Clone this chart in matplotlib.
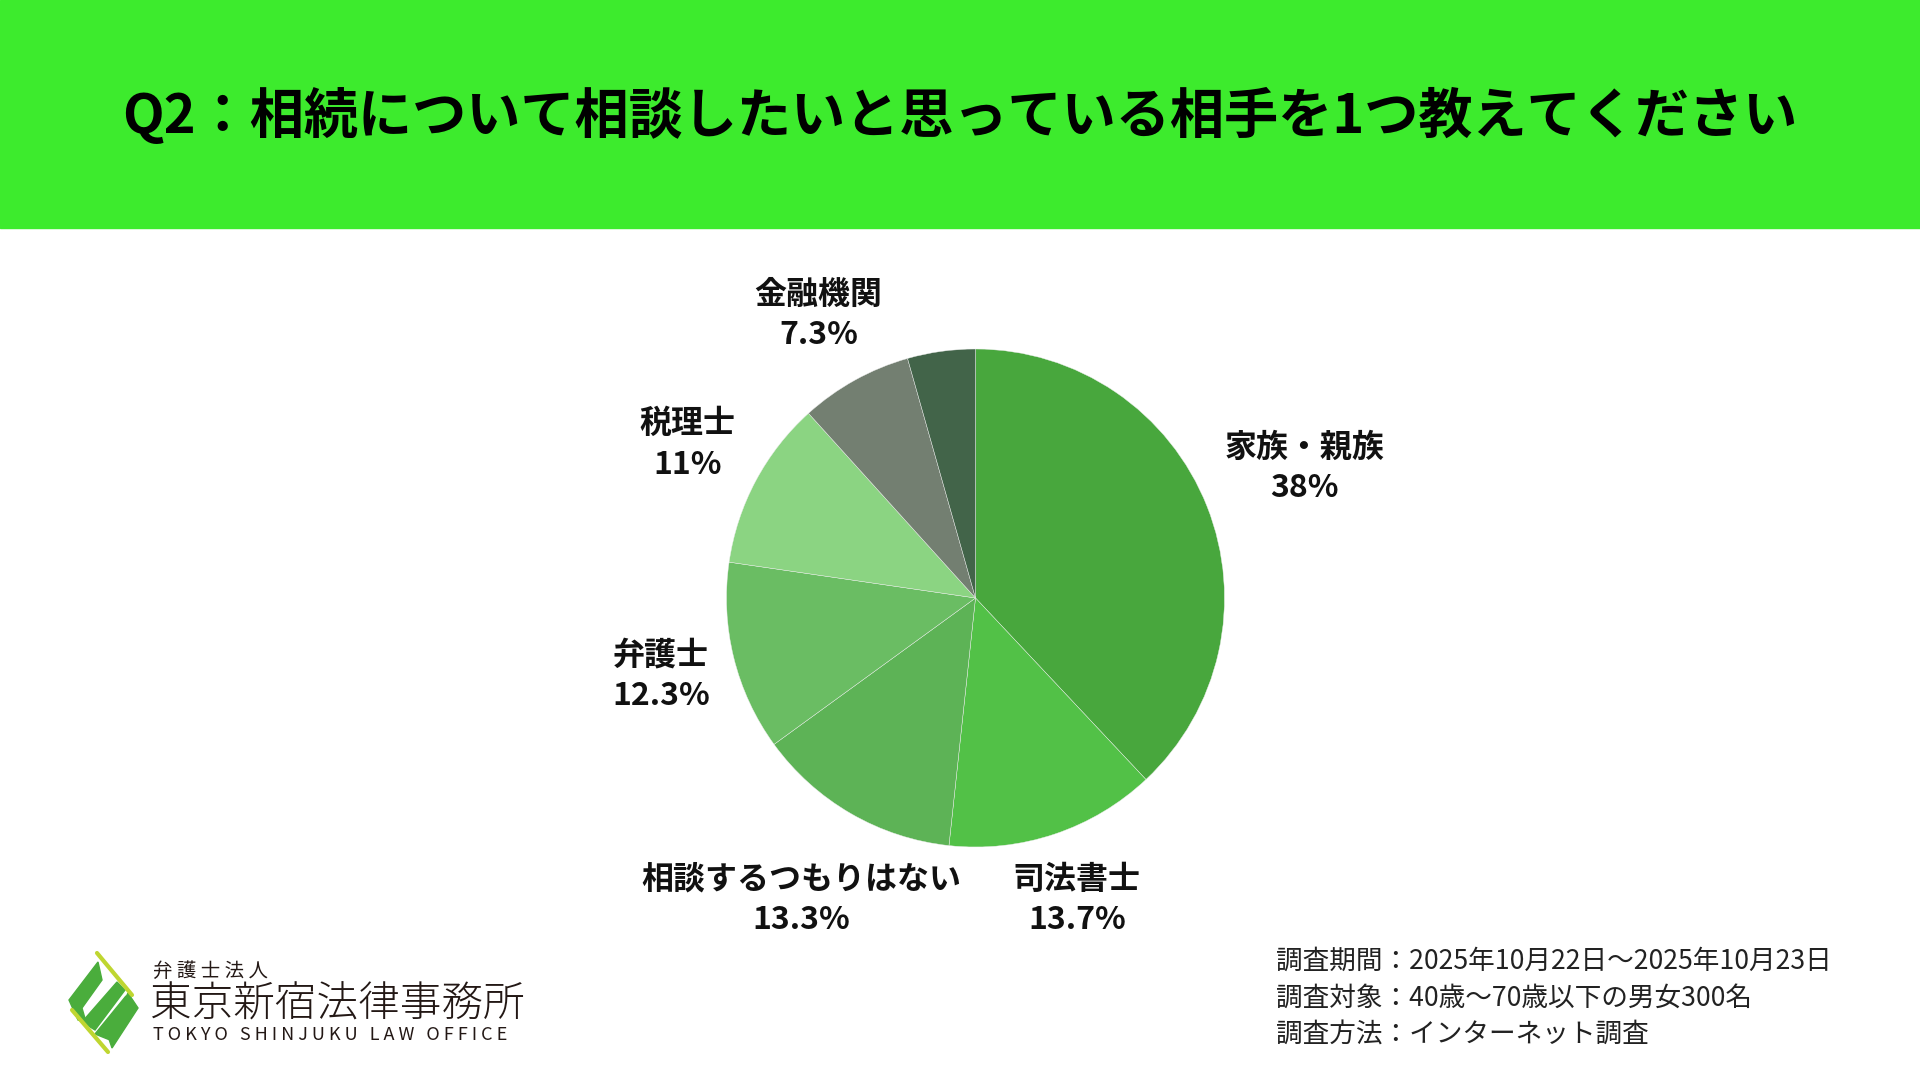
import numpy as np
import matplotlib
matplotlib.use("Agg")
import matplotlib.pyplot as plt
from matplotlib.patches import Rectangle, Polygon

plt.rcParams['font.family'] = ['Noto Sans CJK JP', 'DejaVu Sans']

# data
title = "Q2：相続について相談したいと思っている相手を1つ教えてください"
names = ["家族・親族", "司法書士", "相談するつもりはない", "弁護士", "税理士", "金融機関", ""]
values = [38, 13.7, 13.3, 12.3, 11, 7.3, 4.4]
colors = ["#48a73d", "#52c147", "#5db356", "#6abd63", "#8bd482", "#737f71", "#426449"]
notes = ["調査期間：2025年10月22日～2025年10月23日",
         "調査対象：40歳～70歳以下の男女300名",
         "調査方法：インターネット調査"]

# label distance from centre, in pie radii (wider labels sit further out)
label_dist = [1.42, 1.28, 1.40, 1.30, 1.31, 1.30, 1.3]

W, H = 1920, 1080
fig = plt.figure(figsize=(19.2, 10.8), dpi=100)
ax = fig.add_axes([0, 0, 1, 1])

# header band
ax.add_patch(Rectangle((0, H - 228), W, 228, color="#3deb2d", zorder=0))
ax.text(W / 2, H - 116, title, ha="center", va="center", fontsize=39,
        fontweight="bold", color="black")

# pie
cx, cy, r = 975.5, H - 598, 249
wedges, _ = ax.pie(values, colors=colors, startangle=90, counterclock=False,
                   center=(cx, cy), radius=r,
                   wedgeprops=dict(edgecolor="#eeeeee", linewidth=0.3))

cum = np.cumsum([0] + values[:-1])
for i, (nm, v) in enumerate(zip(names, values)):
    if not nm:
        continue
    ang = np.deg2rad(90 - (cum[i] + v / 2) / sum(values) * 360)
    x = cx + label_dist[i] * r * np.cos(ang)
    y = cy + label_dist[i] * r * np.sin(ang)
    ax.text(x, y, f"{nm}\n{v:g}%", ha="center", va="center", fontsize=23,
            fontweight="bold", linespacing=1.33, color="#111111")

# survey notes
for k, line in enumerate(notes):
    ax.text(1276, H - 961 - 37 * k, line, ha="left", va="center",
            fontsize=19.2, color="#222222")

# logo
ax.text(153, H - 971, " ".join("弁護士法人"), ha="left", va="center",
        fontsize=14, color="#231815")
ax.text(150, H - 1005, "東京新宿法律事務所", ha="left", va="center",
        fontsize=30, color="#231815", fontweight="light")
ax.text(153, H - 1035, " ".join("TOKYO SHINJUKU LAW OFFICE"), ha="left",
        va="center", fontsize=13, color="#231815")

def pix(pts):
    return [(px, H - py) for px, py in pts]

green = "#4aad3c"
lime = "#bfd630"
ax.add_patch(Polygon(pix([(98, 962), (102, 980), (82, 1008), (86, 1022),
                          (78, 1020), (69, 1000)]), color=green))
ax.add_patch(Polygon(pix([(82, 1022), (117, 982), (125, 990), (95, 1030)]),
                     color=green))
ax.add_patch(Polygon(pix([(95, 1034), (126, 996), (134, 1004), (110, 1040)]),
                     color=green))
ax.add_patch(Polygon(pix([(128, 993), (138, 1008), (112, 1048), (108, 1036)]),
                     color=green))
ax.plot([97, 132], [H - 953, H - 995], color=lime, lw=3, solid_capstyle="round")
ax.plot([72, 108], [H - 1010, H - 1052], color=lime, lw=3, solid_capstyle="round")

ax.set_xlim(0, W)
ax.set_ylim(0, H)
ax.set_aspect("equal")
ax.axis("off")

fig.savefig("out.png", dpi=100, facecolor="white")
